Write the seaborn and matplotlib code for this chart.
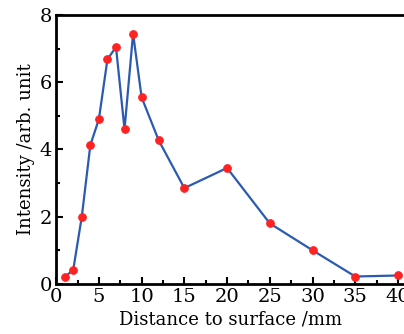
import numpy as np
import pandas as pd
import matplotlib
matplotlib.use('Agg')
import matplotlib.pyplot as plt
from matplotlib.ticker import MultipleLocator
import seaborn as sns

# Datos
distancia = [1, 2, 3, 4, 5, 6, 7, 8, 9, 10, 12, 15, 20, 25, 30, 35, 40]
intensidad = [0.2, 0.42, 2.0, 4.13, 4.9, 6.68, 7.05, 4.6, 7.45, 5.55,
              4.27, 2.85, 3.45, 1.8, 1.0, 0.22, 0.25]

df = pd.DataFrame({'Distancia': distancia, 'Intensidad': intensidad})

sns.set_style('ticks')
plt.rcParams['font.family'] = ['DejaVu Serif']
plt.rcParams['text.color'] = 'black'
plt.rcParams['axes.labelcolor'] = 'black'
plt.rcParams['xtick.color'] = 'black'
plt.rcParams['ytick.color'] = 'black'

fig = plt.figure(figsize=(4.04, 3.34), dpi=100)
ax = fig.add_axes([0.139, 0.150, 0.861, 0.805])

sns.lineplot(data=df, x='Distancia', y='Intensidad', ax=ax,
             color='#2b5bb0', linewidth=1.6, marker='o', markersize=5.5,
             markerfacecolor='#ff2222', markeredgecolor='#ff2222')

ax.set_xlim(0, 40.7)
ax.set_ylim(0, 8)
ax.xaxis.set_major_locator(MultipleLocator(5))
ax.xaxis.set_minor_locator(MultipleLocator(2.5))
ax.yaxis.set_major_locator(MultipleLocator(2))
ax.yaxis.set_minor_locator(MultipleLocator(1))
ax.tick_params(which='both', direction='in', width=1.5, labelsize=14, pad=3)
ax.tick_params(which='major', length=5)
ax.tick_params(which='minor', length=3)

for lado in ['left', 'bottom', 'top']:
    ax.spines[lado].set_linewidth(2)
    ax.spines[lado].set_color('black')
ax.spines['right'].set_visible(False)

ax.set_xlabel('Distance to surface /mm', fontsize=13, labelpad=3)
ax.set_ylabel('Intensity /arb. unit', fontsize=13, labelpad=3)

fig.savefig('out.png', dpi=100)
